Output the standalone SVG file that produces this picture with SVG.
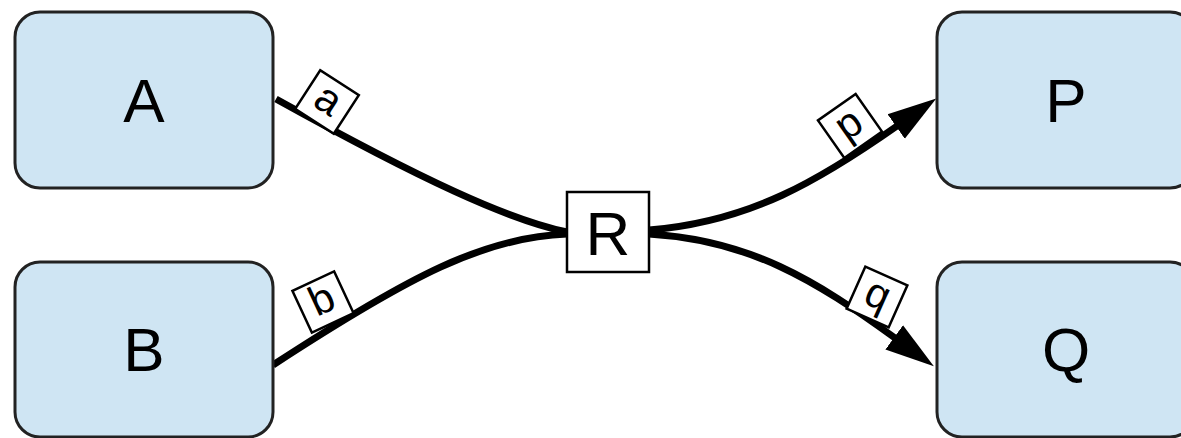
<svg xmlns="http://www.w3.org/2000/svg" width="1181" height="438" viewBox="0 0 1181 438">
<style>
.box{fill:#cfe5f3;stroke:#222;stroke-width:3}
.big{font-family:"Liberation Sans",Arial,sans-serif;font-size:62px;fill:#000;text-anchor:middle}
.edge{fill:none;stroke:#000;stroke-width:7}
.lbl rect{fill:#fff;stroke:#000;stroke-width:2.5}
.lbl text{font-family:"Liberation Sans",Arial,sans-serif;font-size:42px;fill:#000;text-anchor:middle}
</style>
<defs>
<marker id="arr" markerUnits="userSpaceOnUse" viewBox="0 -16 50 32" markerWidth="50" markerHeight="32" refX="1" refY="0" orient="auto">
<path d="M0,-15 L49,0 L0,15 z" fill="#000"/>
</marker>
</defs>
<rect width="1181" height="438" fill="#fff"/>
<g id="connectors">
<path class="edge" d="M276,99 C422,180 509,220 567,232"/>
<path class="edge" d="M273,365 C411,275 485,237 567,234"/>
<path class="edge" d="M649,230 C750,222 820,180 897,126" marker-end="url(#arr)"/>
<path class="edge" d="M649,234 C750,240 815,280 895,338" marker-end="url(#arr)"/>
<g class="lbl" transform="translate(327,102) rotate(33)"><rect x="-23" y="-23" width="46" height="46"/><text x="0" y="11">a</text></g>
<g class="lbl" transform="translate(323,302) rotate(-25)"><rect x="-23" y="-23" width="46" height="46"/><text x="0" y="11">b</text></g>
<g class="lbl" transform="translate(850,126) rotate(-35)"><rect x="-23" y="-23" width="46" height="46"/><text x="0" y="11">p</text></g>
<g class="lbl" transform="translate(877,297) rotate(24)"><rect x="-23" y="-23" width="46" height="46"/><text x="0" y="11">q</text></g>
</g>
<g id="node-A"><rect class="box" x="15" y="12" width="258" height="176" rx="25"/><text class="big" x="144" y="122">A</text></g>
<g id="node-B"><rect class="box" x="15" y="262" width="258" height="175" rx="25"/><text class="big" x="144" y="371">B</text></g>
<g id="node-P"><rect class="box" x="937" y="12" width="258" height="176" rx="25"/><text class="big" x="1066" y="122">P</text></g>
<g id="node-Q"><rect class="box" x="937" y="262" width="258" height="175" rx="25"/><text class="big" x="1066" y="371">Q</text></g>
<g id="node-R"><rect x="567" y="192" width="82" height="80" fill="#fff" stroke="#000" stroke-width="2.5"/><text class="big" x="608" y="255">R</text></g>
</svg>
